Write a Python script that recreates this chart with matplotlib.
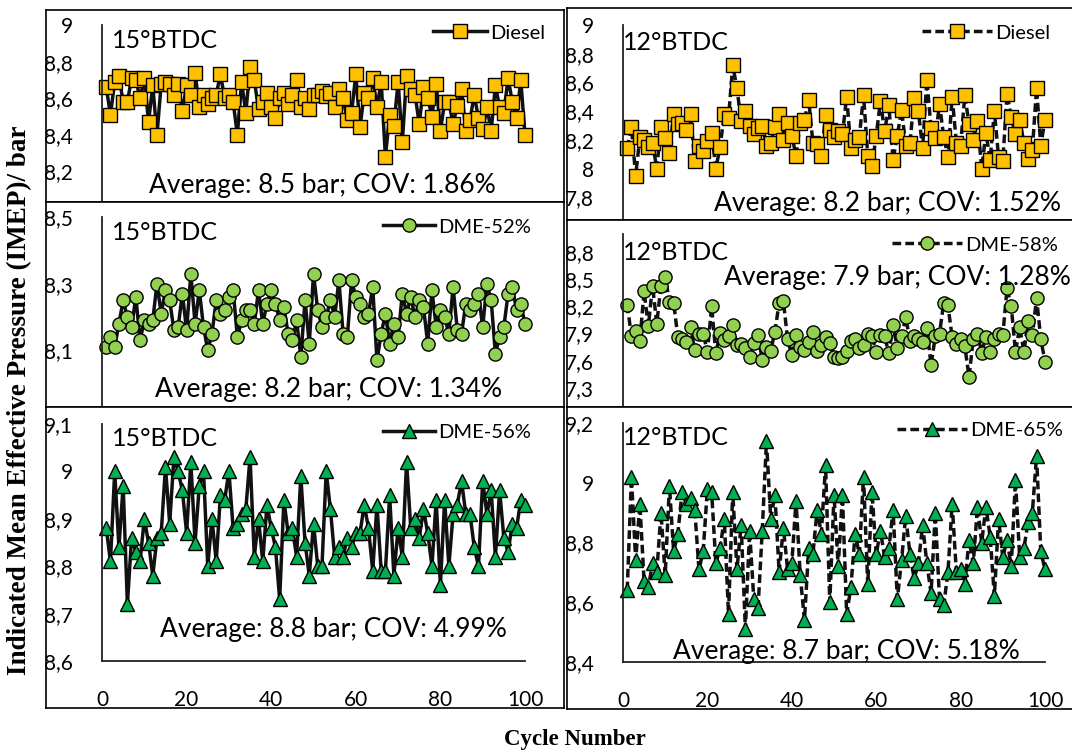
import numpy as np
import matplotlib
matplotlib.use("Agg")
import matplotlib.pyplot as plt
from matplotlib.ticker import FuncFormatter

# IMEP per cycle
cycles = np.arange(1, 101)

diesel_15 = [8.66, 8.51, 8.69, 8.72, 8.58, 8.58, 8.71, 8.70, 8.60, 8.71,
             8.47, 8.67, 8.40, 8.68, 8.69, 8.68, 8.62, 8.68, 8.53, 8.67,
             8.62, 8.74, 8.55, 8.62, 8.57, 8.60, 8.62, 8.73, 8.60, 8.62,
             8.58, 8.40, 8.69, 8.52, 8.77, 8.70, 8.54, 8.58, 8.63, 8.55,
             8.49, 8.60, 8.63, 8.57, 8.62, 8.70, 8.55, 8.60, 8.54, 8.62,
             8.62, 8.64, 8.61, 8.63, 8.55, 8.65, 8.60, 8.48, 8.52, 8.73,
             8.44, 8.63, 8.60, 8.71, 8.55, 8.69, 8.28, 8.51, 8.45, 8.69,
             8.36, 8.72, 8.65, 8.62, 8.46, 8.66, 8.60, 8.50, 8.68, 8.42,
             8.58, 8.58, 8.46, 8.56, 8.65, 8.42, 8.48, 8.62, 8.49, 8.43,
             8.55, 8.42, 8.67, 8.55, 8.52, 8.71, 8.58, 8.49, 8.70, 8.40]

dme52_15 = [8.11, 8.14, 8.11, 8.18, 8.25, 8.20, 8.17, 8.26, 8.13, 8.19,
            8.18, 8.19, 8.30, 8.21, 8.28, 8.25, 8.16, 8.17, 8.27, 8.16,
            8.33, 8.18, 8.28, 8.17, 8.10, 8.15, 8.25, 8.21, 8.22, 8.26,
            8.28, 8.14, 8.19, 8.22, 8.22, 8.18, 8.28, 8.18, 8.24, 8.28,
            8.24, 8.19, 8.23, 8.15, 8.13, 8.19, 8.08, 8.25, 8.12, 8.33,
            8.22, 8.17, 8.20, 8.25, 8.20, 8.31, 8.15, 8.14, 8.31, 8.26,
            8.24, 8.20, 8.21, 8.29, 8.07, 8.15, 8.21, 8.12, 8.18, 8.14,
            8.27, 8.21, 8.26, 8.20, 8.25, 8.23, 8.12, 8.28, 8.17, 8.22,
            8.20, 8.15, 8.29, 8.16, 8.15, 8.24, 8.22, 8.24, 8.27, 8.17,
            8.30, 8.25, 8.09, 8.14, 8.17, 8.27, 8.29, 8.22, 8.24, 8.18]

dme56_15 = [8.88, 8.81, 9.00, 8.84, 8.97, 8.72, 8.86, 8.83, 8.81, 8.90,
            8.85, 8.78, 8.86, 8.87, 9.01, 8.89, 9.03, 9.00, 8.96, 8.87,
            9.02, 8.85, 8.97, 9.00, 8.80, 8.90, 8.81, 8.95, 8.94, 9.00,
            8.88, 8.89, 8.91, 8.92, 9.03, 8.82, 8.90, 8.81, 8.93, 8.88,
            8.84, 8.73, 8.94, 8.87, 8.88, 8.82, 8.99, 8.85, 8.78, 8.89,
            8.80, 8.80, 9.00, 8.92, 8.82, 8.84, 8.82, 8.86, 8.84, 8.87,
            8.87, 8.93, 8.88, 8.79, 8.93, 8.79, 8.79, 8.95, 8.78, 8.88,
            8.82, 9.02, 8.88, 8.90, 8.86, 8.92, 8.87, 8.80, 8.94, 8.76,
            8.94, 8.80, 8.91, 8.93, 8.98, 8.91, 8.91, 8.84, 8.80, 8.98,
            8.91, 8.96, 8.82, 8.96, 8.86, 8.83, 8.89, 8.88, 8.94, 8.93]

diesel_12 = [8.14, 8.29, 7.95, 8.22, 8.20, 8.15, 8.18, 8.00, 8.29, 8.21,
             8.11, 8.38, 8.31, 8.32, 8.27, 8.38, 8.05, 8.16, 8.12, 8.19,
             8.25, 8.00, 8.15, 8.38, 8.35, 8.72, 8.56, 8.33, 8.40, 8.30,
             8.24, 8.28, 8.30, 8.16, 8.18, 8.29, 8.38, 8.20, 8.32, 8.23,
             8.09, 8.32, 8.34, 8.48, 8.18, 8.17, 8.09, 8.37, 8.27, 8.22,
             8.26, 8.24, 8.50, 8.14, 8.20, 8.22, 8.51, 8.09, 8.02, 8.23,
             8.47, 8.26, 8.44, 8.06, 8.23, 8.41, 8.16, 8.18, 8.49, 8.40,
             8.14, 8.62, 8.28, 8.21, 8.45, 8.22, 8.08, 8.50, 8.18, 8.16,
             8.51, 8.31, 8.20, 8.33, 8.00, 8.25, 8.06, 8.40, 8.08, 8.05,
             8.52, 8.36, 8.24, 8.34, 8.18, 8.07, 8.13, 8.56, 8.16, 8.34]

dme58_12 = [8.22, 7.87, 7.93, 7.82, 8.37, 7.98, 8.43, 8.01, 8.43, 8.53,
            8.25, 8.24, 7.86, 7.84, 7.81, 7.97, 7.72, 7.90, 7.90, 7.70,
            8.20, 7.68, 7.91, 7.83, 7.87, 7.99, 7.77, 7.79, 7.74, 7.64,
            7.80, 7.88, 7.61, 7.75, 7.71, 7.92, 8.24, 8.26, 7.84, 7.66,
            7.88, 7.75, 7.72, 7.81, 7.92, 7.71, 7.77, 7.86, 7.80, 7.64,
            7.63, 7.64, 7.71, 7.82, 7.84, 7.74, 7.77, 7.90, 7.87, 7.70,
            7.88, 7.87, 7.68, 7.99, 7.74, 7.87, 8.08, 7.82, 7.87, 7.84,
            7.81, 7.96, 7.55, 7.87, 7.90, 8.24, 8.21, 7.86, 7.79, 7.84,
            7.76, 7.42, 7.84, 7.90, 7.69, 7.86, 7.70, 7.84, 7.89, 7.88,
            8.40, 8.20, 7.70, 7.97, 7.70, 8.04, 7.88, 8.29, 7.84, 7.59]

dme65_12 = [8.64, 9.02, 8.74, 8.93, 8.67, 8.65, 8.73, 8.70, 8.90, 8.69,
            8.99, 8.77, 8.83, 8.97, 8.93, 8.95, 8.91, 8.71, 8.77, 8.98,
            8.97, 8.73, 8.78, 8.88, 8.56, 8.97, 8.71, 8.86, 8.51, 8.84,
            8.61, 8.58, 8.84, 9.14, 8.88, 8.96, 8.70, 8.85, 8.71, 8.73,
            8.94, 8.69, 8.54, 8.78, 8.76, 8.91, 8.83, 9.06, 8.60, 8.96,
            8.72, 8.96, 8.56, 8.65, 8.83, 8.76, 9.02, 8.66, 8.97, 8.76,
            8.84, 8.75, 8.78, 8.91, 8.61, 8.74, 8.89, 8.76, 8.68, 8.73,
            8.86, 8.73, 8.63, 8.90, 8.61, 8.59, 8.70, 8.93, 8.70, 8.71,
            8.66, 8.81, 8.73, 8.92, 8.80, 8.92, 8.82, 8.62, 8.88, 8.75,
            8.81, 8.72, 9.01, 8.75, 8.78, 8.87, 8.90, 9.09, 8.77, 8.71]

# y tick labels that stay visible above the next frame
ticks_diesel_15 = [8.2, 8.4, 8.6, 8.8, 9.0]
ticks_dme52_15 = [8.1, 8.3, 8.5]
ticks_dme56_15 = [8.6, 8.7, 8.8, 8.9, 9.0, 9.1]
ticks_diesel_12 = [7.8, 8.0, 8.2, 8.4, 8.6, 8.8, 9.0]
ticks_dme58_12 = [7.3, 7.6, 7.9, 8.2, 8.5, 8.8]
ticks_dme65_12 = [8.4, 8.6, 8.8, 9.0, 9.2]
x_ticks = [0, 20, 40, 60, 80, 100]

W, H = 1072, 755

plt.rcParams["font.family"] = ["Lato", "DejaVu Sans"]

fig = plt.figure(figsize=(W / 100, H / 100), dpi=100)


def px_rect(x0, y0, x1, y1):
    return [x0 / W, 1 - y1 / H, (x1 - x0) / W, (y1 - y0) / H]


def comma(v, pos):
    return f"{round(v, 2):g}".replace(".", ",")


def panel(z, box, area, values, ylim, yticks, label, marker, color, ms, dashed,
          timing, timing_xy, avg, avg_xy, leg_xy, leg_len, show_x):
    # white frame around each little chart; later frames cover earlier axes
    frame = fig.add_axes(px_rect(*box))
    frame.set_xticks([])
    frame.set_yticks([])
    for s in frame.spines.values():
        s.set_linewidth(1.2)
        s.set_color("black")
    frame.set_zorder(z)

    ax = fig.add_axes(px_rect(*area))
    ax.set_zorder(z + 1)
    ax.patch.set_visible(False)
    ls = (0, (2.5, 1.2)) if dashed else "-"
    ax.plot(cycles, values, linestyle=ls, color="#111111", lw=2.5,
            marker=marker, ms=ms, mfc=color, mec="black", mew=1.0,
            label=label, clip_on=False)
    ax.set_xlim(0, 100)
    ax.set_ylim(*ylim)
    ax.set_yticks(yticks)
    ax.yaxis.set_major_formatter(FuncFormatter(comma))
    ax.set_xticks(x_ticks if show_x else [])
    ax.tick_params(length=0, labelsize=15, pad=21)
    for side in ["top", "right"]:
        ax.spines[side].set_visible(False)
    ax.spines["left"].set_linewidth(1.3)
    ax.spines["bottom"].set_linewidth(1.3)
    ax.spines["left"].set_color("#222222")
    ax.spines["bottom"].set_color("#222222")

    fig.text(timing_xy[0] / W, 1 - timing_xy[1] / H, timing, fontsize=18,
             ha="left", va="center", zorder=z + 2)
    fig.text(avg_xy[0] / W, 1 - avg_xy[1] / H, avg, fontsize=19,
             ha="center", va="center", zorder=z + 2)
    ax.legend(loc="center left", bbox_to_anchor=(leg_xy[0] / W, 1 - leg_xy[1] / H),
              bbox_transform=fig.transFigure, frameon=False, borderpad=0,
              borderaxespad=0, handlelength=leg_len, handletextpad=0.15,
              fontsize=14.5)
    return ax


# left column: 15 deg BTDC
panel(0, (46, 10, 564, 202), (102, 25, 525, 208), diesel_15, (8.0, 9.0), ticks_diesel_15,
      "Diesel", "s", "#FFC000", 10, False, "15°BTDC", (112, 40),
      "Average: 8.5 bar; COV: 1.86%", (322, 186), (433, 33), 2.7, False)
panel(2, (46, 202, 564, 407), (102, 217, 525, 417), dme52_15, (7.9, 8.5), ticks_dme52_15,
      "DME-52%", "o", "#92D050", 9.5, False, "15°BTDC", (112, 233),
      "Average: 8.2 bar; COV: 1.34%", (329, 390), (383, 227), 2.6, False)
panel(4, (46, 407, 564, 708), (102, 424, 525, 661), dme56_15, (8.6, 9.1), ticks_dme56_15,
      "DME-56%", "^", "#00B050", 10, False, "15°BTDC", (112, 438),
      "Average: 8.8 bar; COV: 4.99%", (333, 630), (383, 432), 2.6, True)

# right column: 12 deg BTDC
panel(0, (567, 8, 1080, 220), (623, 25, 1045, 226), diesel_12, (7.6, 9.0), ticks_diesel_12,
      "Diesel", "s", "#FFC000", 10, True, "12°BTDC", (623, 42),
      "Average: 8.2 bar; COV: 1.52%", (887, 203), (922, 33), 3.5, False)
panel(2, (567, 220, 1080, 407), (623, 234, 1045, 415), dme58_12, (7.0, 9.0), ticks_dme58_12,
      "DME-58%", "o", "#92D050", 9.5, True, "12°BTDC", (623, 252),
      "Average: 7.9 bar; COV: 1.28%", (897, 277), (892, 245), 3.5, False)
panel(4, (567, 407, 1080, 709), (623, 423, 1045, 662), dme65_12, (8.4, 9.2), ticks_dme65_12,
      "DME-65%", "^", "#00B050", 10, True, "12°BTDC", (623, 437),
      "Average: 8.7 bar; COV: 5.18%", (846, 652), (897, 430), 3.5, True)

fig.text(20 / W, 1 - 400 / H, "Indicated Mean Effective Pressure (IMEP)/ bar",
         rotation=90, ha="center", va="center", fontsize=19.5, fontweight="bold",
         family=["Liberation Serif", "DejaVu Serif"])
fig.text(575 / W, 1 - 740 / H, "Cycle Number", ha="center", va="center",
         fontsize=16.5, fontweight="bold", family=["Liberation Serif", "DejaVu Serif"])

fig.savefig("out.png", dpi=100)
